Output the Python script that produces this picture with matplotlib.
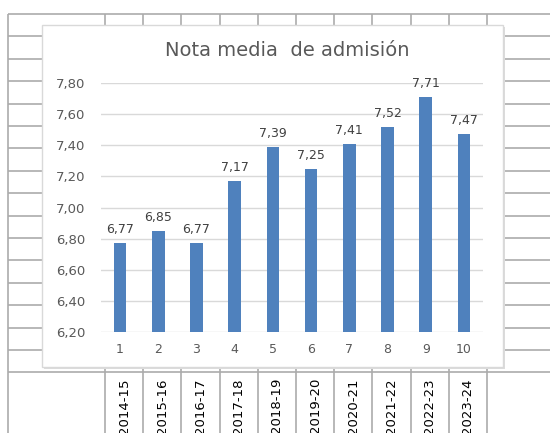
import matplotlib
matplotlib.use("Agg")
import matplotlib.pyplot as plt
import matplotlib.patches as mpatches
import numpy as np

# Datos del grafico
cursos = ["2014-15", "2015-16", "2016-17", "2017-18", "2018-19",
          "2019-20", "2020-21", "2021-22", "2022-23", "2023-24"]
indices = [1, 2, 3, 4, 5, 6, 7, 8, 9, 10]
notas = [6.77, 6.85, 6.77, 7.17, 7.39, 7.25, 7.41, 7.52, 7.71, 7.47]
y_ticks = [6.20, 6.40, 6.60, 6.80, 7.00, 7.20, 7.40, 7.60, 7.80]
titulo = "Nota media  de admisión"

W, H = 550, 433
fig = plt.figure(figsize=(W / 100, H / 100), dpi=100)
fig.patch.set_facecolor("white")

# --- Fondo: cuadricula de la hoja de calculo (coordenadas en pixeles) ---
bg = fig.add_axes([0, 0, 1, 1])
bg.set_xlim(0, W)
bg.set_ylim(H, 0)
bg.axis("off")

grid_col = "#ABABAB"
top, left = 14, 8
row_h = 22.4
col_x = 105 + 38.2 * np.arange(11)
row_y = top + row_h * np.arange(1, 17)

bg.hlines(top, left, W, color=grid_col, lw=1.2, zorder=1)
bg.vlines(left, top, H, color=grid_col, lw=1.2, zorder=1)
bg.hlines(row_y, left, W, color=grid_col, lw=1.2, zorder=1)
bg.vlines(col_x, top, H, color=grid_col, lw=1.2, zorder=1)

# etiquetas de curso giradas en la fila inferior
for i, c in enumerate(cursos):
    xc = (col_x[i] + col_x[i + 1]) / 2
    bg.text(xc, 378, c, rotation=90, ha="center", va="top",
            fontsize=9.5, color="black", zorder=2)

# --- Area del grafico ---
cx0, cy0, cx1, cy1 = 42, 25, 503, 367
bg.add_patch(mpatches.Rectangle((cx0 + 2, cy0 + 2), cx1 - cx0, cy1 - cy0,
                                facecolor="#DCDCDC", edgecolor="none", zorder=3))
bg.add_patch(mpatches.Rectangle((cx0, cy0), cx1 - cx0, cy1 - cy0,
                                facecolor="white", edgecolor="#D9D9D9",
                                lw=1, zorder=4))
bg.text(287, 50, titulo, ha="center", va="center", fontsize=14,
        color="#595959", zorder=5)

# --- Ejes del grafico de barras ---
px0, px1, py_top, py_bot = 101, 483, 83, 332
ax = fig.add_axes([px0 / W, (H - py_bot) / H, (px1 - px0) / W, (py_bot - py_top) / H])
ax.patch.set_alpha(0)

x = np.arange(len(indices))
ax.bar(x, notas, width=0.33, bottom=0, color="#4F81BD", zorder=3)
ax.set_ylim(6.2, 7.8)
ax.set_xlim(-0.5, len(indices) - 0.5)

ax.set_yticks(y_ticks)
ax.set_yticklabels([f"{v:.2f}".replace(".", ",") for v in y_ticks])
ax.set_xticks(x)
ax.set_xticklabels([str(i) for i in indices])
ax.tick_params(axis="y", length=0, pad=11, labelsize=9.5, labelcolor="#595959")
ax.tick_params(axis="x", length=0, pad=8, labelsize=9, labelcolor="#595959")
ax.grid(axis="y", color="#D9D9D9", lw=1, zorder=0)
for s in ax.spines.values():
    s.set_visible(False)

for xi, v in zip(x, notas):
    ax.annotate(f"{v:.2f}".replace(".", ","), (xi, v), xytext=(0, 5),
                textcoords="offset points", ha="center", va="bottom",
                fontsize=9, color="#404040")

fig.savefig("out.png", dpi=100)
plt.close(fig)
